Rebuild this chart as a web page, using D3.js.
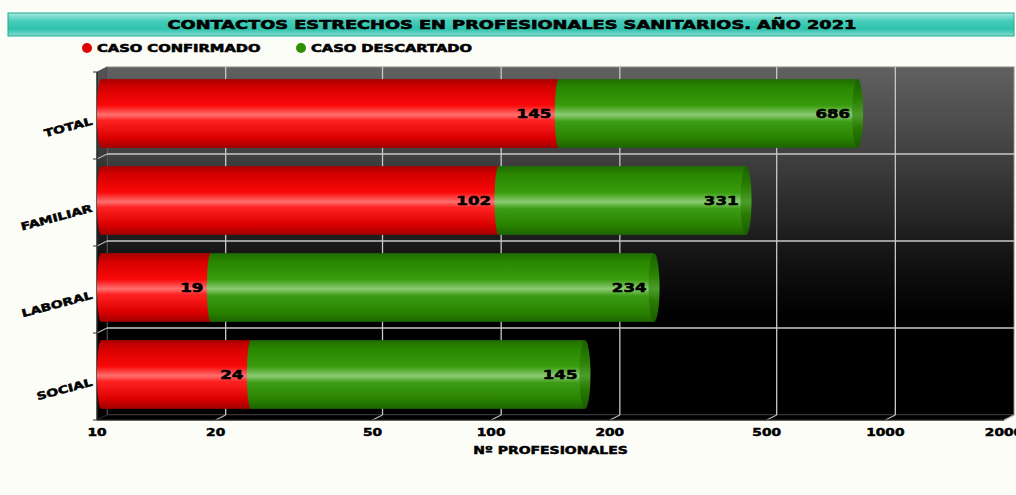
<!DOCTYPE html>
<html><head><meta charset="utf-8">
<script src="https://cdn.jsdelivr.net/npm/d3@7"></script>
<style>
html,body{margin:0;padding:0;background:#fdfdf8;}
svg{display:block;}
text{font-family:"DejaVu Sans",sans-serif;font-weight:bold;fill:#000;}
</style></head>
<body>
<svg id="chart" width="1016" height="495"></svg>
<script>
const categories = ["TOTAL","FAMILIAR","LABORAL","SOCIAL"];
const confirmado = [145,102,19,24];
const descartado = [686,331,234,145];
const xTicks = [10,20,50,100,200,500,1000,2000];
const seriesNames = ["CASO CONFIRMADO","CASO DESCARTADO"];
const seriesColors = ["#e00000","#2e9000"];
const titleText = "CONTACTOS ESTRECHOS EN PROFESIONALES SANITARIOS. AÑO 2021";
const axisTitle = "Nº PROFESIONALES";

const svg = d3.select("#chart");
const STRETCH = 1.33;
const DX = 10, DY = 6; // 3D depth offset
const BX = 4;          // bars sit at mid depth

const x = d3.scaleLog().domain([10,2000]).range([97,1004]);
const y = d3.scaleBand().domain(categories).range([72,420]).padding(0);
const barH = y.bandwidth()*0.79;

const defs = svg.append("defs");
function grad(id, stops){
  const g = defs.append("linearGradient").attr("id",id)
    .attr("x1",0).attr("y1",0).attr("x2",0).attr("y2",1);
  stops.forEach(s=>g.append("stop").attr("offset",s[0]).attr("stop-color",s[1]));
}
grad("titleG",[[0,"#a6eae0"],[0.35,"#46cdb9"],[0.7,"#2fc2ad"],[1,"#86dccf"]]);
grad("wallG",[[0,"#616161"],[0.3,"#3a3a3a"],[0.55,"#131313"],[0.72,"#000"],[1,"#000"]]);
grad("sideG",[[0,"#555"],[0.3,"#333"],[0.55,"#111"],[0.72,"#000"],[1,"#000"]]);
grad("redG",[[0,"#a80000"],[0.12,"#d40000"],[0.38,"#fa0808"],[0.52,"#ff7070"],[0.6,"#ff2222"],[0.85,"#dd0000"],[1,"#a00000"]]);
grad("greenG",[[0,"#1f6c00"],[0.12,"#2a8600"],[0.38,"#389c0c"],[0.52,"#8ccb74"],[0.62,"#3c9c14"],[0.86,"#2a8200"],[1,"#1c6400"]]);
grad("capG",[[0,"#1a6000"],[0.3,"#2a8000"],[0.52,"#4c9c2c"],[0.7,"#2a7c00"],[1,"#185a00"]]);

function stretch(sel, f){
  sel.each(function(){
    const n = this.getComputedTextLength();
    d3.select(this).attr("textLength", n*(f||STRETCH)).attr("lengthAdjust","spacingAndGlyphs");
  });
}

// Title bar
svg.append("rect").attr("x",8).attr("y",13).attr("width",1006).attr("height",23)
  .attr("fill","url(#titleG)").attr("stroke","#22a892").attr("stroke-width",1);
svg.append("text").attr("x",512).attr("y",29).attr("text-anchor","middle")
  .attr("font-size",12.5).attr("stroke","#000").attr("stroke-width",0.6).text(titleText).call(stretch, 1.42);

// Legend
const legX = [87,301];
seriesNames.forEach((n,i)=>{
  svg.append("circle").attr("cx",legX[i]).attr("cy",48).attr("r",5).attr("fill",seriesColors[i]);
  svg.append("text").attr("x",legX[i]+10).attr("y",52).attr("font-size",10.5)
    .attr("stroke","#000").attr("stroke-width",0.55).text(n).call(stretch, 1.40);
});

const x0 = x.range()[0], x1 = x.range()[1];
const yTop = y.range()[0], yBot = y.range()[1];

// Back wall
svg.append("rect").attr("x",x0+DX).attr("y",yTop-DY+1).attr("width",x1-x0).attr("height",yBot-yTop)
  .attr("fill","url(#wallG)").attr("stroke","#8a8a8a").attr("stroke-width",1);
// Left side wall
svg.append("path").attr("d",`M${x0},${yTop}L${x0+DX},${yTop-DY+1}L${x0+DX},${yBot-DY+1}L${x0},${yBot}Z`)
  .attr("fill","url(#sideG)").attr("stroke","#444").attr("stroke-width",0.8);
// Floor
svg.append("path").attr("d",`M${x0},${yBot}L${x0+DX},${yBot-DY+1}L${x1+DX},${yBot-DY+1}L${x1},${yBot}Z`)
  .attr("fill","#000").attr("stroke","#222").attr("stroke-width",0.8);

// Vertical grid lines
const gx = svg.append("g");
xTicks.slice(1).forEach(t=>{
  const px = x(t);
  if (t < 2000) {
    gx.append("line").attr("x1",px+DX).attr("x2",px+DX).attr("y1",yTop-DY+1).attr("y2",yBot-DY+1)
      .attr("stroke","#c8c8c8").attr("stroke-width",1.3);
  }
  gx.append("line").attr("x1",px).attr("x2",px+DX).attr("y1",yBot).attr("y2",yBot-DY+1)
    .attr("stroke","#b8b8b8").attr("stroke-width",1.2);
});
// Horizontal grid lines at band boundaries
const bounds = categories.slice(1).map(c=>y(c));
bounds.forEach(by=>{
  gx.append("line").attr("x1",x0+DX).attr("x2",x1+DX).attr("y1",by-DY+1).attr("y2",by-DY+1)
    .attr("stroke","#c8c8c8").attr("stroke-width",1.3);
  gx.append("line").attr("x1",x0).attr("x2",x0+DX).attr("y1",by).attr("y2",by-DY+1)
    .attr("stroke","#b8b8b8").attr("stroke-width",1.2);
});
// front axes
svg.append("line").attr("x1",x0).attr("x2",x0).attr("y1",yTop).attr("y2",yBot).attr("stroke","#222").attr("stroke-width",1.2);
svg.append("line").attr("x1",x0).attr("x2",x1).attr("y1",yBot).attr("y2",yBot).attr("stroke","#222").attr("stroke-width",1.2);
[yTop].concat(bounds).concat([yBot]).forEach(by=>{
  svg.append("line").attr("x1",x0-4).attr("x2",x0).attr("y1",by).attr("y2",by).attr("stroke","#333").attr("stroke-width",1);
});

// Bars
const bars = svg.append("g");
categories.forEach((c,i)=>{
  const cy = y(c) + y.bandwidth()/2 - 2;
  const top = cy - barH/2;
  const xs = x(10) + 4;
  const xc = x(confirmado[i]) + BX;
  const xt = x(confirmado[i] + descartado[i]) + BX;
  bars.append("ellipse").attr("cx",xs).attr("cy",cy).attr("rx",4).attr("ry",barH/2).attr("fill","url(#redG)");
  bars.append("rect").attr("x",xs).attr("y",top).attr("width",xc-xs).attr("height",barH).attr("fill","url(#redG)");
  bars.append("rect").attr("x",xc).attr("y",top).attr("width",xt-xc).attr("height",barH).attr("fill","url(#greenG)");
  bars.append("ellipse").attr("cx",xc).attr("cy",cy).attr("rx",4).attr("ry",barH/2).attr("fill","url(#greenG)");
  bars.append("ellipse").attr("cx",xt).attr("cy",cy).attr("rx",5.5).attr("ry",barH/2).attr("fill","url(#capG)");
  [[xc,confirmado[i]],[xt,descartado[i]]].forEach(([px,v])=>{
    bars.append("text").attr("x",px-7.5).attr("y",cy+4.5).attr("text-anchor","end")
      .attr("font-size",12.5).attr("stroke","#000").attr("stroke-width",0.55).text(v).call(stretch);
  });
  const bc = y(c) + y.bandwidth()/2;
  svg.append("text").attr("text-anchor","end").attr("font-size",10.5)
    .attr("transform",`translate(93,${bc+9}) rotate(-15)`)
    .attr("stroke","#000").attr("stroke-width",0.5).text(c).call(stretch);
});

// X tick labels
xTicks.forEach(t=>{
  svg.append("text").attr("x",x(t)).attr("y",436).attr("text-anchor","middle")
    .attr("font-size",10.5).attr("stroke","#000").attr("stroke-width",0.5).text(t).call(stretch, 1.31);
});
// Axis title
svg.append("text").attr("x",(x0+x1)/2).attr("y",454).attr("text-anchor","middle")
  .attr("font-size",10.5).attr("stroke","#000").attr("stroke-width",0.5).text(axisTitle).call(stretch);
</script>
</body></html>
